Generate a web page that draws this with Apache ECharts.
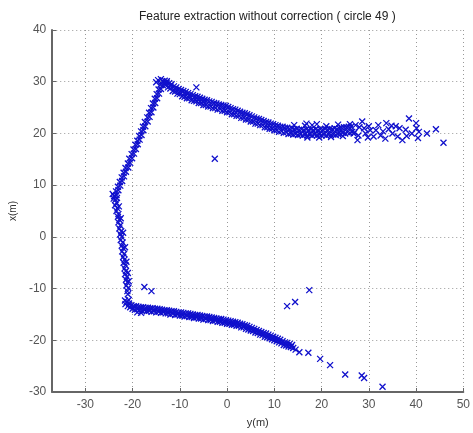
<!DOCTYPE html>
<html>
<head>
<meta charset="utf-8">
<script src="https://cdn.jsdelivr.net/npm/echarts@6/dist/echarts.min.js"></script>
<style>
html, body { margin: 0; padding: 0; background: #fff; }
#main { width: 473px; height: 433px; }
</style>
</head>
<body>
<div id="main"></div>
<script>
// points are [y(m), x(m)] : horizontal value first, vertical value second
var leftEdge = [
  [-24.2, 8.3], [-24.0, 7.4], [-23.9, 7.9], [-23.6, 7.2], [-23.3, 7.5], [-23.4, 6.6], [-23.7, 6.1],
  [-22.9, 5.9], [-23.2, 5.5], [-23.4, 5.0], [-23.0, 4.4], [-23.1, 3.9], [-22.5, 3.6], [-22.8, 3.3],
  [-23.0, 2.8], [-22.6, 2.2], [-22.8, 1.6], [-22.4, 1.1], [-22.0, 0.8], [-22.6, 0.5], [-22.3, 0.0],
  [-22.5, -0.6], [-22.1, -1.1], [-22.3, -1.7], [-21.6, -2.0], [-22.0, -2.2], [-22.2, -2.8], [-21.8, -3.3],
  [-22.0, -3.9], [-21.7, -4.4], [-21.3, -4.8], [-21.9, -5.0], [-21.5, -5.5], [-21.7, -6.1], [-21.4, -6.6],
  [-21.0, -7.0], [-21.6, -7.2], [-21.2, -7.7], [-21.4, -8.3], [-20.8, -8.6], [-21.1, -8.8], [-21.3, -9.4],
  [-20.9, -9.9], [-21.1, -10.5], [-21.0, -11.1]
];
var leftDiagonal = [
  [-23.8, 7.8], [-23.4, 8.1], [-23.5, 8.8], [-23.0, 9.0], [-23.1, 9.7], [-22.6, 9.9], [-22.7, 10.6],
  [-22.2, 10.8], [-22.3, 11.5], [-21.8, 11.7], [-21.9, 12.4], [-21.4, 12.6], [-21.5, 13.3], [-20.9, 13.4],
  [-21.0, 14.2], [-20.5, 14.3], [-20.7, 15.1], [-20.1, 15.2], [-20.2, 16.0], [-19.7, 16.1], [-19.8, 16.9],
  [-19.3, 17.0], [-19.4, 17.8], [-18.9, 17.9], [-19.0, 18.6], [-18.5, 18.8], [-18.6, 19.5], [-18.1, 19.7],
  [-18.2, 20.4], [-17.7, 20.6], [-17.8, 21.3], [-17.3, 21.4], [-17.4, 22.2], [-16.8, 22.3], [-16.9, 23.1],
  [-16.4, 23.2], [-16.5, 24.0], [-16.0, 24.1], [-16.1, 24.9], [-15.6, 25.0], [-15.7, 25.8], [-15.2, 25.9],
  [-15.3, 26.7], [-14.8, 26.8], [-14.9, 27.6], [-14.4, 27.7], [-14.5, 28.5], [-14.0, 28.6], [-14.1, 29.4],
  [-13.6, 29.3], [-13.7, 30.1], [-14.6, 30.3], [-14.0, 30.5], [-13.2, 30.2], [-12.8, 29.8], [-15.0, 29.9]
];
var upperBandLow = [
  [-13, 29.3], [-12.5, 28.9], [-12, 28.7], [-11.5, 28.2], [-11, 28.1], [-10.5, 27.7], [-10, 27.6],
  [-9.5, 27.2], [-9, 27.1], [-8.5, 26.8], [-8, 26.8], [-7.5, 26.4], [-7, 26.3], [-6.5, 26.2], [-6, 25.9],
  [-5.5, 25.9], [-5, 25.5], [-4.5, 25.5], [-4, 25.2], [-3.5, 25.2], [-3, 24.9], [-2.5, 24.9], [-2, 24.6],
  [-1.5, 24.7], [-1, 24.4], [-0.5, 24.4], [0, 24.1], [0.5, 24.1], [1, 23.7], [1.5, 23.7], [2, 23.4],
  [2.5, 23.4], [3, 23.0], [3.5, 23.0], [4, 22.7], [4.5, 22.7], [5, 22.3], [5.5, 22.3], [6, 21.9],
  [6.5, 21.9], [7, 21.6], [7.5, 21.6], [8, 21.2], [8.5, 21.2], [9, 20.9], [9.5, 20.9], [10, 20.6],
  [10.5, 20.6], [11, 20.3], [11.5, 20.4], [12, 20.1], [12.5, 20.2], [13, 19.9], [13.5, 20.0], [14, 19.8],
  [14.5, 19.9], [15, 19.7], [15.5, 19.8], [16, 19.6], [16.5, 19.8], [17, 19.6], [17.5, 19.8], [18, 19.6],
  [18.5, 19.8], [19, 19.6], [19.5, 19.8], [20, 19.6], [20.5, 19.8], [21, 19.6], [21.5, 19.8], [22, 19.7],
  [22.5, 19.8], [23, 19.7], [23.5, 19.9], [24, 19.9], [24.5, 20.1], [25, 20.0], [25.5, 20.2], [26, 20.1],
  [26.5, 20.3], [27, 20.2]
];
var upperBandHigh = [
  [-12.75, 30.1], [-12.25, 29.7], [-11.75, 29.5], [-11.25, 29.1], [-10.75, 28.9], [-10.25, 28.6],
  [-9.75, 28.4], [-9.25, 28.2], [-8.75, 28.0], [-8.25, 27.8], [-7.75, 27.6], [-7.25, 27.4], [-6.75, 27.2],
  [-6.25, 27.1], [-5.75, 26.9], [-5.25, 26.7], [-4.75, 26.5], [-4.25, 26.4], [-3.75, 26.2], [-3.25, 26.1],
  [-2.75, 25.9], [-2.25, 25.8], [-1.75, 25.6], [-1.25, 25.5], [-0.75, 25.4], [-0.25, 25.3], [0.25, 25.1],
  [0.75, 24.9], [1.25, 24.7], [1.75, 24.6], [2.25, 24.4], [2.75, 24.2], [3.25, 24.0], [3.75, 23.9],
  [4.25, 23.7], [4.75, 23.5], [5.25, 23.3], [5.75, 23.1], [6.25, 22.9], [6.75, 22.8], [7.25, 22.6],
  [7.75, 22.4], [8.25, 22.2], [8.75, 22.1], [9.25, 21.9], [9.75, 21.8], [10.25, 21.6], [10.75, 21.5],
  [11.25, 21.3], [11.75, 21.3], [12.25, 21.1], [12.75, 21.1], [13.25, 20.9], [13.75, 21.0], [14.25, 20.8],
  [14.75, 20.9], [15.25, 20.7], [15.75, 20.8], [16.25, 20.6], [16.75, 20.8], [17.25, 20.6], [17.75, 20.8],
  [18.25, 20.6], [18.75, 20.8], [19.25, 20.6], [19.75, 20.8], [20.25, 20.7], [20.75, 20.9], [21.25, 20.7],
  [21.75, 20.9], [22.25, 20.8], [22.75, 21.0], [23.25, 20.8], [23.75, 21.0], [24.25, 21.1], [24.75, 21.2],
  [25.25, 21.2], [25.75, 21.3], [26.25, 21.3]
];
var upperBandMid = [
  [-13.2, 29.7], [-12, 29.2], [-11, 28.6], [-10, 28.0], [-9, 27.7], [-8, 27.3], [-7, 26.9], [-6, 26.5],
  [-5, 26.1], [-6.5, 28.9], [16.5, 21.5], [18, 21.6], [19.5, 19.2], [21, 21.4], [22, 19.3], [23.5, 21.7],
  [24.5, 19.5], [26, 21.8], [17, 19.2], [14.2, 21.6], [16.8, 21.9], [19, 21.8]
];
var upperTail = [
  [27.2, 21.6], [27.6, 18.7], [28.6, 22.3], [29.3, 20.0], [30.3, 20.6], [31.0, 19.4], [32.0, 21.6],
  [33.0, 20.4], [33.7, 22.0], [34.2, 20.8], [35.0, 20.0], [35.7, 21.4], [36.1, 19.4], [37.1, 18.7],
  [37.8, 20.7], [38.5, 22.9], [39.1, 20.0], [40.0, 22.0], [40.1, 21.0], [40.4, 19.1], [40.6, 20.3],
  [42.3, 20.0], [44.2, 20.8], [45.8, 18.2], [28.0, 21.2], [29.0, 21.0], [30.0, 21.4], [31.5, 20.6],
  [32.5, 19.6], [26.8, 20.0], [27.8, 19.6], [29.8, 19.2], [34.8, 21.5], [36.5, 21.0], [38.0, 19.5],
  [33.5, 19.0]
];
var lowerBandLow = [
  [-21.5, -13.0], [-21, -13.4], [-20.5, -13.6], [-20, -13.9], [-19.5, -14.1], [-19, -14.0], [-18.5, -14.2],
  [-18, -14.3], [-17.5, -14.2], [-17, -14.4], [-16.5, -14.3], [-16, -14.5], [-15.5, -14.4], [-15, -14.6],
  [-14.5, -14.5], [-14, -14.7], [-13.5, -14.6], [-13, -14.8], [-12.5, -14.8], [-12, -15.0], [-11.5, -14.9],
  [-11, -15.1], [-10.5, -15.0], [-10, -15.2], [-9.5, -15.2], [-9, -15.4], [-8.5, -15.3], [-8, -15.5],
  [-7.5, -15.5], [-7, -15.7], [-6.5, -15.6], [-6, -15.8], [-5.5, -15.8], [-5, -16.0], [-4.5, -15.9],
  [-4, -16.1], [-3.5, -16.1], [-3, -16.3], [-2.5, -16.2], [-2, -16.4], [-1.5, -16.4], [-1, -16.6],
  [-0.5, -16.6], [0, -16.8], [0.5, -16.8], [1, -17.0], [1.5, -17.0], [2, -17.2], [2.5, -17.2], [3, -17.5],
  [3.5, -17.5], [4, -17.8], [4.5, -17.9], [5, -18.1], [5.5, -18.2], [6, -18.5], [6.5, -18.6], [7, -18.9],
  [7.5, -19.0], [8, -19.3], [8.5, -19.4], [9, -19.6], [9.5, -19.8], [10, -20.0], [10.5, -20.2], [11, -20.4],
  [11.5, -20.6], [12, -20.9], [12.5, -21.0], [13, -21.2], [13.5, -21.3], [14, -21.5]
];
var lowerBandHigh = [
  [-21.25, -12.6], [-20.75, -12.9], [-20.25, -13.2], [-19.75, -13.4], [-19.25, -13.4], [-18.75, -13.5],
  [-18.25, -13.6], [-17.75, -13.6], [-17.25, -13.7], [-16.75, -13.7], [-16.25, -13.8], [-15.75, -13.8],
  [-15.25, -13.9], [-14.75, -13.9], [-14.25, -14.0], [-13.75, -14.1], [-13.25, -14.2], [-12.75, -14.2],
  [-12.25, -14.3], [-11.75, -14.4], [-11.25, -14.4], [-10.75, -14.5], [-10.25, -14.6], [-9.75, -14.6],
  [-9.25, -14.7], [-8.75, -14.8], [-8.25, -14.8], [-7.75, -14.9], [-7.25, -15.0], [-6.75, -15.1],
  [-6.25, -15.1], [-5.75, -15.2], [-5.25, -15.3], [-4.75, -15.4], [-4.25, -15.4], [-3.75, -15.5],
  [-3.25, -15.6], [-2.75, -15.7], [-2.25, -15.8], [-1.75, -15.9], [-1.25, -15.9], [-0.75, -16.0],
  [-0.25, -16.1], [0.25, -16.2], [0.75, -16.3], [1.25, -16.4], [1.75, -16.5], [2.25, -16.6], [2.75, -16.8],
  [3.25, -16.9], [3.75, -17.1], [4.25, -17.2], [4.75, -17.4], [5.25, -17.6], [5.75, -17.8], [6.25, -18.0],
  [6.75, -18.2], [7.25, -18.4], [7.75, -18.6], [8.25, -18.7], [8.75, -18.9], [9.25, -19.1], [9.75, -19.3],
  [10.25, -19.5], [10.75, -19.7], [11.25, -19.9], [11.75, -20.2], [12.25, -20.4], [12.75, -20.5],
  [13.25, -20.7], [13.75, -20.9], [-21.6, -12.3], [-20.8, -12.2], [-19.0, -14.6], [-18.2, -14.7]
];
var lowerTail = [
  [14.5, -21.8], [15.3, -22.3], [17.2, -22.4], [19.7, -23.6], [21.8, -24.8], [25.0, -26.6],
  [28.5, -26.8], [29.0, -27.3], [32.9, -29.0]
];
var strayPoints = [
  [-2.6, 15.1], [-17.5, -9.7], [-16.0, -10.5], [17.4, -10.3], [14.4, -12.6], [12.7, -13.4]
];
var xTicks = [-30, -20, -10, 0, 10, 20, 30, 40, 50];

var allPoints = [].concat(leftEdge, leftDiagonal, upperBandLow, upperBandHigh, upperBandMid,
  upperTail, lowerBandLow, lowerBandHigh, lowerTail, strayPoints);

var myChart = echarts.init(document.getElementById('main'));

var axisGrey = '#666';
var option = {
  backgroundColor: '#fff',
  animation: false,
  title: {
    text: 'Feature extraction without correction ( circle 49 )',
    left: 134,
    top: 6,
    textStyle: { fontFamily: 'Liberation Sans', fontSize: 12, fontWeight: 'normal', color: '#222' }
  },
  grid: { left: 42, right: 8, top: 30, bottom: 41 },
  xAxis: {
    type: 'value',
    min: -37,
    max: 50,
    name: 'y(m)',
    nameLocation: 'middle',
    nameGap: 25,
    nameTextStyle: { fontFamily: 'Liberation Sans', fontSize: 11, color: '#333' },
    axisLine: { show: true, onZero: false, lineStyle: { color: axisGrey, width: 2 } },
    axisTick: { show: true, inside: true, length: 4, customValues: xTicks, lineStyle: { color: axisGrey } },
    axisLabel: { customValues: xTicks, fontFamily: 'Liberation Sans', fontSize: 12, color: '#555', margin: 7 },
    splitLine: { show: true, lineStyle: { color: '#999', type: [1, 3], width: 1 } }
  },
  yAxis: {
    type: 'value',
    min: -30,
    max: 40,
    interval: 10,
    name: 'x(m)',
    nameLocation: 'middle',
    nameGap: 23,
    nameTextStyle: { fontFamily: 'Liberation Sans', fontSize: 10, color: '#333' },
    axisLine: { show: true, onZero: false, lineStyle: { color: axisGrey, width: 2 } },
    axisTick: { show: true, inside: true, length: 4, lineStyle: { color: axisGrey } },
    axisLabel: { fontFamily: 'Liberation Sans', fontSize: 12, color: '#555', margin: 6 },
    splitLine: { show: true, lineStyle: { color: '#999', type: [1, 3], width: 1 } }
  },
  series: [
    {
      type: 'scatter',
      data: allPoints,
      symbol: 'path://M0,0L10,10M10,0L0,10',
      symbolSize: 6,
      itemStyle: { color: '#1010cc', borderColor: '#1010cc', borderWidth: 1.3, opacity: 1 }
    }
  ]
};

myChart.setOption(option);
</script>
</body>
</html>
